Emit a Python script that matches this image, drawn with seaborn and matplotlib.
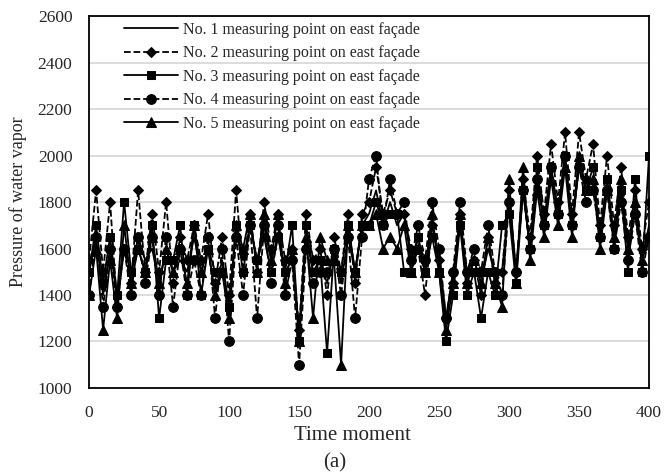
import matplotlib
matplotlib.use("Agg")
import matplotlib.pyplot as plt
import seaborn as sns
import pandas as pd

# time moments 0..400, every 5
t = list(range(0, 405, 5))

p1 = [1500, 1650, 1400, 1600, 1400, 1600, 1500, 1650, 1550, 1600,
      1450, 1600, 1500, 1550, 1500, 1650, 1500, 1600, 1400, 1550,
      1350, 1700, 1550, 1700, 1550, 1700, 1550, 1650, 1500, 1550,
      1250, 1650, 1500, 1550, 1450, 1600, 1450, 1650, 1500, 1700,
      1750, 1850, 1700, 1800, 1700, 1750, 1550, 1650, 1500, 1700,
      1550, 1300, 1500, 1700, 1500, 1550, 1450, 1600, 1500, 1500,
      1800, 1500, 1850, 1600, 1900, 1700, 1950, 1750, 2000, 1700,
      2000, 1850, 1900, 1650, 1900, 1650, 1850, 1600, 1750, 1550,
      1700]
p2 = [1550, 1850, 1500, 1800, 1350, 1600, 1450, 1850, 1500, 1750,
      1500, 1800, 1450, 1650, 1550, 1700, 1550, 1750, 1450, 1650,
      1400, 1850, 1500, 1750, 1500, 1800, 1600, 1750, 1550, 1600,
      1250, 1750, 1550, 1600, 1400, 1650, 1500, 1750, 1450, 1750,
      1800, 1950, 1750, 1850, 1750, 1750, 1600, 1600, 1400, 1700,
      1550, 1300, 1450, 1750, 1450, 1550, 1400, 1650, 1450, 1500,
      1850, 1500, 1900, 1650, 2000, 1750, 2050, 1800, 2100, 1750,
      2100, 1900, 2050, 1700, 2000, 1700, 1950, 1650, 1850, 1600,
      1800]
p3 = [1500, 1700, 1450, 1650, 1400, 1800, 1500, 1600, 1500, 1700,
      1300, 1550, 1550, 1700, 1400, 1700, 1400, 1600, 1500, 1500,
      1350, 1700, 1500, 1700, 1550, 1650, 1500, 1650, 1500, 1700,
      1200, 1700, 1500, 1550, 1150, 1600, 1500, 1700, 1500, 1700,
      1700, 1800, 1700, 1750, 1750, 1500, 1500, 1650, 1500, 1650,
      1500, 1200, 1400, 1700, 1400, 1500, 1300, 1500, 1400, 1700,
      1750, 1450, 1850, 1600, 1950, 1700, 1950, 1750, 2000, 1700,
      1950, 1850, 1950, 1650, 1900, 1600, 1850, 1500, 1900, 1500,
      2000]
p4 = [1400, 1650, 1350, 1600, 1350, 1600, 1400, 1650, 1450, 1650,
      1400, 1650, 1350, 1600, 1400, 1550, 1400, 1650, 1300, 1600,
      1200, 1650, 1400, 1700, 1300, 1700, 1450, 1700, 1400, 1550,
      1100, 1600, 1450, 1500, 1500, 1600, 1400, 1650, 1300, 1650,
      1900, 2000, 1700, 1900, 1750, 1800, 1550, 1700, 1550, 1800,
      1600, 1300, 1500, 1800, 1500, 1600, 1500, 1700, 1500, 1400,
      1800, 1500, 1850, 1600, 1900, 1700, 1950, 1750, 2000, 1700,
      1950, 1800, 1850, 1650, 1850, 1600, 1800, 1550, 1750, 1500,
      1650]
p5 = [1400, 1600, 1250, 1550, 1300, 1700, 1450, 1600, 1500, 1650,
      1450, 1600, 1500, 1600, 1450, 1700, 1500, 1600, 1400, 1500,
      1300, 1700, 1600, 1750, 1500, 1750, 1550, 1750, 1450, 1600,
      1200, 1650, 1300, 1650, 1550, 1550, 1100, 1700, 1500, 1700,
      1700, 1750, 1600, 1650, 1600, 1700, 1500, 1600, 1500, 1750,
      1500, 1250, 1450, 1750, 1450, 1550, 1450, 1650, 1450, 1350,
      1900, 1450, 1950, 1550, 1850, 1650, 1900, 1700, 1950, 1650,
      2000, 1850, 1900, 1600, 1850, 1650, 1900, 1600, 1800, 1550,
      1650]

labels = ["No. 1 measuring point on east façade",
          "No. 2 measuring point on east façade",
          "No. 3 measuring point on east façade",
          "No. 4 measuring point on east façade",
          "No. 5 measuring point on east façade"]
series = [p1, p2, p3, p4, p5]
markers = [None, "D", "s", "o", "^"]
styles = ["-", "--", "-", "--", "-"]
msizes = [0, 5.5, 5.5, 7, 6.5]

sns.set_style("white")
plt.rcParams["font.family"] = ["Liberation Serif", "DejaVu Serif"]

fig = plt.figure(figsize=(6.65, 4.76), dpi=100)
ax = fig.add_axes([0.134, 0.185, 0.842, 0.781])

for y, lab, m, ls, ms in zip(series, labels, markers, styles, msizes):
    sns.lineplot(x=t, y=y, ax=ax, color="black", marker=m, linestyle=ls,
                 markersize=ms, linewidth=1.3, label=lab,
                 markeredgecolor="black", markerfacecolor="black")

ax.set_xlim(0, 400)
ax.set_ylim(1000, 2600)
ax.set_xticks(range(0, 401, 50))
ax.set_yticks(range(1000, 2601, 200))
ax.yaxis.grid(True, color="#d9d9d9", linewidth=1.3)
ax.set_axisbelow(True)
ax.tick_params(length=0, labelsize=12.5, pad=12)
for s in ax.spines.values():
    s.set_color("black")
    s.set_linewidth(1.3)

ax.set_xlabel("Time moment", fontsize=15, va="center")
ax.xaxis.set_label_coords(0.47, -0.129)
ax.set_ylabel("Pressure of water vapor", fontsize=13, va="center")
ax.yaxis.set_label_coords(-0.127, 0.5)
fig.text(335 / 665, 1 - 463 / 476, "(a)", fontsize=15, ha="center", va="center")

ax.legend(loc="upper left", bbox_to_anchor=(0.0625, 0.985), frameon=False,
          fontsize=11.5, handlelength=3.4, labelspacing=0.47,
          handletextpad=0.3, borderaxespad=0, borderpad=0)

fig.savefig("out.png", dpi=100)
